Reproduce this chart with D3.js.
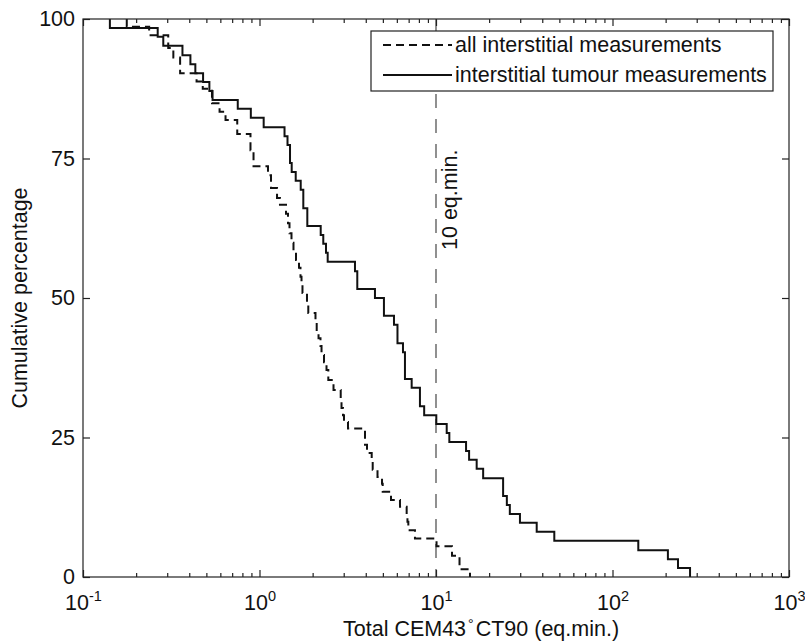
<!DOCTYPE html>
<html>
<head>
<meta charset="utf-8">
<script src="https://cdn.jsdelivr.net/npm/d3@7"></script>
<style>
  body { margin: 0; background: #fff; }
  svg text { font-family: "Liberation Sans", Arial, Helvetica, sans-serif; font-size: 21.5px; fill: #111; }
  .axis line { stroke: #222; stroke-width: 1.2; }
  .axis path { display: none; }
</style>
</head>
<body>
<div id="chart"></div>
<script>
// all interstitial measurements (dashed): value where the step drops, percentage after drop
var allX = [0.177, 0.237, 0.304, 0.325, 0.355, 0.440, 0.477, 0.538, 0.594, 0.642,
            0.748, 0.889, 0.925, 1.117, 1.162, 1.257, 1.306, 1.413, 1.450, 1.479,
            1.518, 1.558, 1.610, 1.674, 1.707, 1.730, 1.752, 1.858, 1.890, 2.076,
            2.109, 2.160, 2.216, 2.246, 2.320, 2.397, 2.454, 2.626, 2.885, 2.915,
            2.972, 3.011, 3.172, 3.960, 4.065, 4.322, 4.379, 4.662, 4.945, 4.989,
            5.56, 6.25, 6.82, 6.89, 6.97, 7.60, 10.07, 12.32, 13.59, 15.58];
var allPct = [98.6, 97.1, 94.8, 93.1, 90.3, 88.8, 87.5, 84.9, 83.4, 81.9,
              79.4, 76.5, 73.6, 72.0, 69.7, 67.9, 66.7, 65.1, 63.4, 61.6,
              59.9, 58.3, 56.8, 55.4, 53.8, 52.3, 50.9, 48.9, 47.3, 45.7,
              44.0, 42.8, 41.4, 39.8, 38.5, 37.1, 35.3, 33.5, 31.7, 30.3,
              29.0, 27.8, 26.6, 23.7, 22.2, 20.6, 19.2, 17.9, 16.7, 15.3,
              13.8, 12.6, 11.1, 9.9, 8.4, 6.9, 5.5, 3.8, 1.4, 0];

// interstitial tumour measurements (solid)
var tumourX = [0.142, 0.265, 0.285, 0.366, 0.406, 0.433, 0.479, 0.520, 0.542, 0.753,
               0.893, 1.056, 1.386, 1.441, 1.489, 1.522, 1.604, 1.712, 1.771, 1.866,
               2.222, 2.298, 2.381, 2.434, 3.475, 3.581, 4.51, 5.07, 5.78, 6.05,
               6.50, 6.67, 7.28, 8.11, 8.57, 10.04, 11.5, 11.9, 14.8, 15.4,
               17.0, 18.5, 24.0, 25.2, 26.2, 29.9, 37.2, 46.8, 140, 206,
               235, 275];
var tumourPct = [98.4, 96.8, 95.2, 93.5, 91.9, 90.3, 88.7, 87.1, 85.5, 83.9,
                 82.3, 80.6, 79.0, 77.4, 74.2, 72.6, 71.0, 69.4, 66.1, 62.9,
                 61.3, 59.7, 58.1, 56.5, 54.8, 51.6, 50.0, 46.8, 45.2, 41.9,
                 40.3, 35.5, 33.9, 30.6, 29.0, 27.4, 25.8, 24.2, 22.6, 21.0,
                 19.4, 17.7, 14.5, 12.9, 11.3, 9.7, 8.1, 6.5, 4.8, 3.2,
                 1.6, 0];

var yTicks = [0, 25, 50, 75, 100];
var xExponents = [-1, 0, 1, 2, 3];
var legendLabels = ["all interstitial measurements", "interstitial tumour measurements"];
var refValue = 10, refLabel = "10 eq.min.";

var margin = {top: 19, right: 16, bottom: 64, left: 83},
    width = 805 - margin.left - margin.right,
    height = 641 - margin.top - margin.bottom;

var x = d3.scaleLog().domain([0.1, 1000]).range([0, width]);
var y = d3.scaleLinear().domain([0, 100]).range([height, 0]);

var majorX = xExponents.map(function(e) { return Math.pow(10, e); });
var minorX = [];
xExponents.slice(0, -1).forEach(function(e) {
  for (var m = 2; m <= 9; m++) minorX.push(m * Math.pow(10, e));
});

var root = d3.select("#chart").append("svg")
    .attr("width", 805).attr("height", 641);
var svg = root.append("g")
    .attr("transform", "translate(" + margin.left + "," + margin.top + ")");

// reference line at 10 eq.min.
svg.append("line")
    .attr("x1", x(refValue)).attr("x2", x(refValue))
    .attr("y1", 0).attr("y2", height)
    .attr("stroke", "#555").attr("stroke-width", 1.3)
    .attr("stroke-dasharray", "14,11");
svg.append("text")
    .attr("transform", "translate(" + (x(refValue) + 21) + "," + 231 + ") rotate(-90)")
    .text(refLabel);

// step curves
function steps(xs, ps) {
  var pts = [{x: xs[0], y: 100}];
  xs.forEach(function(v, i) { pts.push({x: v, y: ps[i]}); });
  return pts;
}
var line = d3.line()
    .x(function(d) { return x(d.x); })
    .y(function(d) { return y(d.y); })
    .curve(d3.curveStepAfter);

svg.append("path").datum(steps(allX, allPct))
    .attr("d", line).attr("fill", "none")
    .attr("stroke", "#111").attr("stroke-width", 2)
    .attr("stroke-dasharray", "8,5");
svg.append("path").datum(steps(tumourX, tumourPct))
    .attr("d", line).attr("fill", "none")
    .attr("stroke", "#111").attr("stroke-width", 2);

// axes
var bottom = svg.append("g").attr("class", "axis")
    .attr("transform", "translate(0," + height + ")")
    .call(d3.axisBottom(x).tickValues(majorX).tickSize(-7).tickFormat(""));
svg.append("g").attr("class", "axis")
    .attr("transform", "translate(0," + height + ")")
    .call(d3.axisBottom(x).tickValues(minorX).tickSize(-4).tickFormat(""));
svg.append("g").attr("class", "axis")
    .call(d3.axisTop(x).tickValues(majorX).tickSize(-7).tickFormat(""));
svg.append("g").attr("class", "axis")
    .call(d3.axisTop(x).tickValues(minorX).tickSize(-4).tickFormat(""));

bottom.selectAll(".tick text").each(function(d) {
  var t = d3.select(this).attr("y", 33).attr("dy", null).text(null);
  t.append("tspan").text("10");
  t.append("tspan").attr("dy", -9).style("font-size", "14.5px")
      .text(String(Math.round(Math.log10(d))));
});

svg.append("g").attr("class", "axis")
    .call(d3.axisLeft(y).tickValues(yTicks).tickSize(-7).tickPadding(8));
svg.append("g").attr("class", "axis")
    .attr("transform", "translate(" + width + ",0)")
    .call(d3.axisRight(y).tickValues(yTicks).tickSize(-7).tickFormat(""));

svg.append("rect")
    .attr("width", width).attr("height", height)
    .attr("fill", "none").attr("stroke", "#222").attr("stroke-width", 1.2);

// legend
var legend = svg.append("g").attr("transform", "translate(288,12)");
legend.append("rect")
    .attr("width", 402).attr("height", 60)
    .attr("fill", "#fff").attr("stroke", "#222").attr("stroke-width", 1.2);
legendLabels.forEach(function(lab, i) {
  legend.append("line")
      .attr("x1", 12).attr("x2", 81)
      .attr("y1", 14 + i * 30).attr("y2", 14 + i * 30)
      .attr("stroke", "#111").attr("stroke-width", 2)
      .attr("stroke-dasharray", i == 0 ? "8,5" : null);
  legend.append("text")
      .attr("x", 84).attr("y", 21 + i * 30)
      .text(lab);
});

// axis titles
root.append("text")
    .attr("transform", "translate(27," + (margin.top + height / 2) + ") rotate(-90)")
    .attr("text-anchor", "middle")
    .text("Cumulative percentage");

var xt = root.append("text")
    .attr("x", 343).attr("y", 636)
    .text("Total CEM43");
xt.append("tspan").attr("dx", 2).attr("dy", -7).style("font-size", "14px").text("°");
xt.append("tspan").attr("dx", 2).attr("dy", 7).text("CT90 (eq.min.)");
</script>
</body>
</html>
